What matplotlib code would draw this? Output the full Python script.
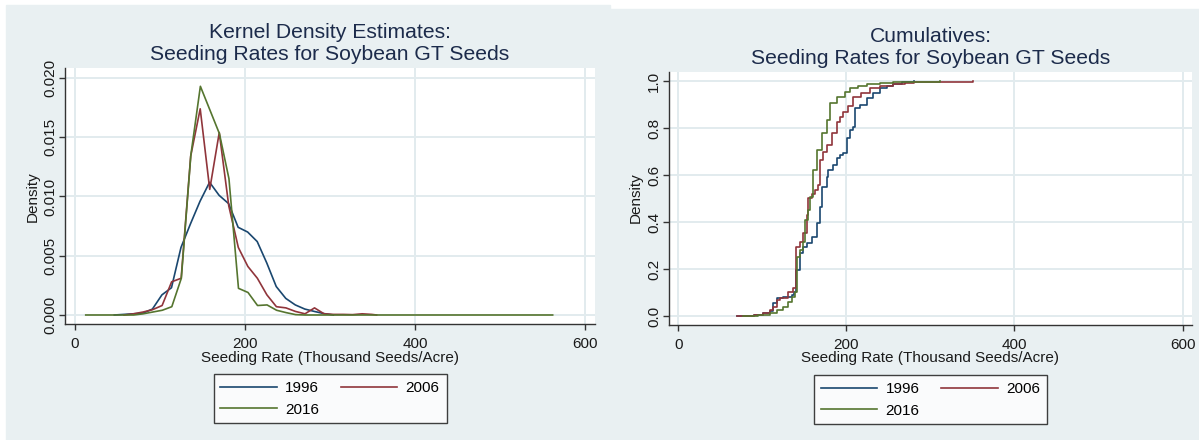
import matplotlib
matplotlib.use("Agg")
import matplotlib.pyplot as plt
from matplotlib.patches import Rectangle
from matplotlib.lines import Line2D

plt.rcParams['font.family'] = ['Liberation Sans', 'DejaVu Sans']

years = ["1996", "2006", "2016"]
colors = {"1996": "#1a476f", "2006": "#90353b", "2016": "#55752f"}

# kernel density estimates (thousand seeds/acre, density)
kde_x_1996 = [46.6, 57.8, 69.0, 80.2, 91.4, 102.6, 113.8, 125.0, 136.2, 147.4,
              158.6, 169.8, 181.0, 192.2, 203.4, 214.6, 225.8, 237.0, 248.2,
              259.4, 270.6, 281.8, 293.0, 304.2]
kde_y_1996 = [0.0, 0.00005, 0.0001, 0.00015, 0.0005, 0.0017, 0.0023, 0.0057,
              0.0077, 0.0096, 0.0112, 0.0101, 0.0094, 0.0074, 0.0070, 0.0062,
              0.0044, 0.0024, 0.0014, 0.00085, 0.0005, 0.0003, 0.00012, 0.0]

kde_x_2006 = [58.0, 69.2, 80.4, 91.6, 102.8, 114.0, 125.2, 136.4, 147.6, 158.8,
              170.0, 181.2, 192.4, 203.6, 214.8, 226.0, 237.2, 248.4, 259.6,
              270.8, 282.0, 293.2, 304.4, 315.6, 326.8, 338.0, 349.2, 355.0]
kde_y_2006 = [0.0, 0.0001, 0.00025, 0.00045, 0.0008, 0.0028, 0.0031, 0.0134,
              0.0174, 0.0106, 0.0154, 0.0092, 0.0057, 0.0041, 0.0031, 0.0017,
              0.0007, 0.0006, 0.0003, 0.0001, 0.0006, 0.0001, 0.00005, 0.00005,
              0.00003, 0.0001, 0.00005, 0.0]

kde_x_2016 = [13.0, 69.4, 80.6, 91.8, 103.0, 114.2, 125.4, 136.6, 147.8, 159.0,
              170.2, 181.4, 192.6, 203.8, 215.0, 226.2, 237.4, 248.6, 259.8,
              271.0, 562.0]
kde_y_2016 = [0.0, 0.0, 0.0001, 0.00025, 0.0004, 0.0007, 0.0031, 0.0135,
              0.0193, 0.0173, 0.0153, 0.0115, 0.00225, 0.0019, 0.0008, 0.00085,
              0.0004, 0.0002, 0.00003, 0.0, 0.0]

# empirical cumulative distributions
cdf_x_1996 = [69.5, 90, 101, 109, 113, 117, 125, 135, 138, 140.5, 144.8, 148.8,
              152.8, 158.7, 164.7, 168.6, 170.6, 176.6, 178.5, 184.4, 188.5,
              192.4, 196.3, 200.4, 204.3, 208.2, 210.3, 216, 224, 232, 240, 248,
              256, 266, 280]
cdf_y_1996 = [0.0, 0.005, 0.012, 0.02, 0.054, 0.075, 0.082, 0.089, 0.104, 0.196,
              0.267, 0.295, 0.31, 0.338, 0.395, 0.466, 0.551, 0.593, 0.622,
              0.643, 0.672, 0.686, 0.693, 0.757, 0.793, 0.807, 0.885, 0.9, 0.928,
              0.95, 0.97, 0.98, 0.988, 0.995, 1.0]

cdf_x_2006 = [69.5, 90, 101, 109, 113, 117, 121, 131, 136.8, 140, 144.8, 148.8,
              152.8, 154.7, 158.7, 162.7, 166.6, 168.6, 172, 176.6, 182.5, 188.5,
              192.4, 196.3, 202.3, 208.2, 218, 228, 240, 256, 270, 280, 300, 351]
cdf_y_2006 = [0.0, 0.006, 0.014, 0.026, 0.04, 0.068, 0.075, 0.104, 0.118, 0.295,
              0.317, 0.352, 0.43, 0.501, 0.52, 0.537, 0.558, 0.665, 0.7, 0.729,
              0.778, 0.828, 0.85, 0.87, 0.895, 0.934, 0.95, 0.97, 0.98, 0.988,
              0.993, 0.996, 0.998, 1.0]

cdf_x_2016 = [77, 95, 109, 117, 125, 131, 135, 138.9, 140.9, 144.8, 148.8, 150.8,
              154.7, 156.7, 160.6, 165.4, 170.6, 176.6, 180.5, 188.5, 198.4, 204,
              214, 224, 240, 256, 280, 311]
cdf_y_2016 = [0.0, 0.004, 0.011, 0.026, 0.04, 0.061, 0.082, 0.104, 0.253, 0.281,
              0.317, 0.409, 0.452, 0.508, 0.622, 0.707, 0.778, 0.835, 0.906,
              0.934, 0.956, 0.97, 0.98, 0.988, 0.993, 0.996, 0.999, 1.0]

kde = {"1996": (kde_x_1996, kde_y_1996), "2006": (kde_x_2006, kde_y_2006),
       "2016": (kde_x_2016, kde_y_2016)}
cdf = {"1996": (cdf_x_1996, cdf_y_1996), "2006": (cdf_x_2006, cdf_y_2006),
       "2016": (cdf_x_2016, cdf_y_2016)}

W, H = 1199, 440
BG = "#e9f0f2"
GRID = "#e2ebee"
TITLE_C = "#1c2b4b"
TEXT_C = "#1a1a1a"


def fx(px):
    return px / W


def fy(py):
    return 1 - py / H


fig = plt.figure(figsize=(W / 100, H / 100), dpi=100, facecolor="white")
fig.patches.append(Rectangle((fx(6), 0), fx(610) - fx(6), fy(5),
                             transform=fig.transFigure, color=BG, zorder=-10))
fig.patches.append(Rectangle((fx(608), 0), 1 - fx(608), fy(9),
                             transform=fig.transFigure, color=BG, zorder=-10))


def style_axes(ax, yticks, yfmt):
    for side in ["top", "right"]:
        ax.spines[side].set_visible(False)
    for side in ["left", "bottom"]:
        ax.spines[side].set_color("#333333")
        ax.spines[side].set_linewidth(1.0)
    ax.set_xticks([0, 200, 400, 600])
    ax.set_yticks(yticks)
    ax.set_yticklabels([yfmt.format(v) for v in yticks])
    ax.tick_params(axis="both", direction="out", length=4, width=1,
                   color="#333333", labelsize=11, labelcolor=TEXT_C)
    ax.tick_params(axis="x", pad=5)
    ax.tick_params(axis="y", pad=1.5)
    for lab in ax.get_yticklabels():
        lab.set_rotation(90)
        lab.set_va("center")
        lab.set_ha("right")
    ax.grid(True, color=GRID, linewidth=1.4)
    ax.set_axisbelow(True)


def panel(rect, title_lines, title_ys, data, steps, yticks, yfmt, ylim,
          xlim, ylab_px, legend_top):
    ax = fig.add_axes(rect)
    for yr in years:
        x, y = data[yr]
        if steps:
            ax.plot(x, y, color=colors[yr], lw=1.2, drawstyle="steps-post")
        else:
            ax.plot(x, y, color=colors[yr], lw=1.2)
    ax.set_xlim(*xlim)
    ax.set_ylim(*ylim)
    style_axes(ax, yticks, yfmt)

    cx = rect[0] + rect[2] / 2
    for txt, py in zip(title_lines, title_ys):
        fig.text(cx, fy(py), txt, ha="center", va="center", fontsize=15.2,
                 color=TITLE_C)
    fig.text(cx, fy(358), "Seeding Rate (Thousand Seeds/Acre)", ha="center",
             va="center", fontsize=11, color=TEXT_C)
    fig.text(fx(ylab_px[0]), fy(ylab_px[1]), "Density", ha="center",
             va="center", rotation=90, fontsize=11, color=TEXT_C)

    # legend: 1996 and 2016 in the first column, 2006 in the second
    order = ["1996", "2016", "2006"]
    handles = [Line2D([], [], color=colors[yr], lw=1.2) for yr in order]
    leg = fig.legend(handles, order, loc="upper center", ncol=2,
                     bbox_to_anchor=(cx, fy(legend_top)),
                     bbox_transform=fig.transFigure, fontsize=11,
                     frameon=True, fancybox=False, handlelength=3.7,
                     handletextpad=0.55, columnspacing=1.4, labelspacing=0.5,
                     borderpad=0.45, borderaxespad=0)
    leg.get_frame().set_edgecolor("#111111")
    leg.get_frame().set_linewidth(1.0)
    leg.get_frame().set_facecolor("white")
    return ax


panel([fx(65.4), fy(324), fx(594.6) - fx(65.4), fy(68) - fy(324)],
      ["Kernel Density Estimates:", "Seeding Rates for Soybean GT Seeds"],
      [33, 55], kde, False, [0, 0.005, 0.010, 0.015, 0.020], "{:.3f}",
      (-0.00076, 0.020844), (-10.9, 611.3), (33, 197), 374)

panel([fx(668.8), fy(325), fx(1192) - fx(668.8), fy(72) - fy(325)],
      ["Cumulatives:", "Seeding Rates for Soybean GT Seeds"],
      [37, 58], cdf, True, [0, 0.2, 0.4, 0.6, 0.8, 1.0], "{:.1f}",
      (-0.0383, 1.0396), (-11.3, 611.3), (636, 198), 375)

fig.savefig("out.png", dpi=100, facecolor="white")
